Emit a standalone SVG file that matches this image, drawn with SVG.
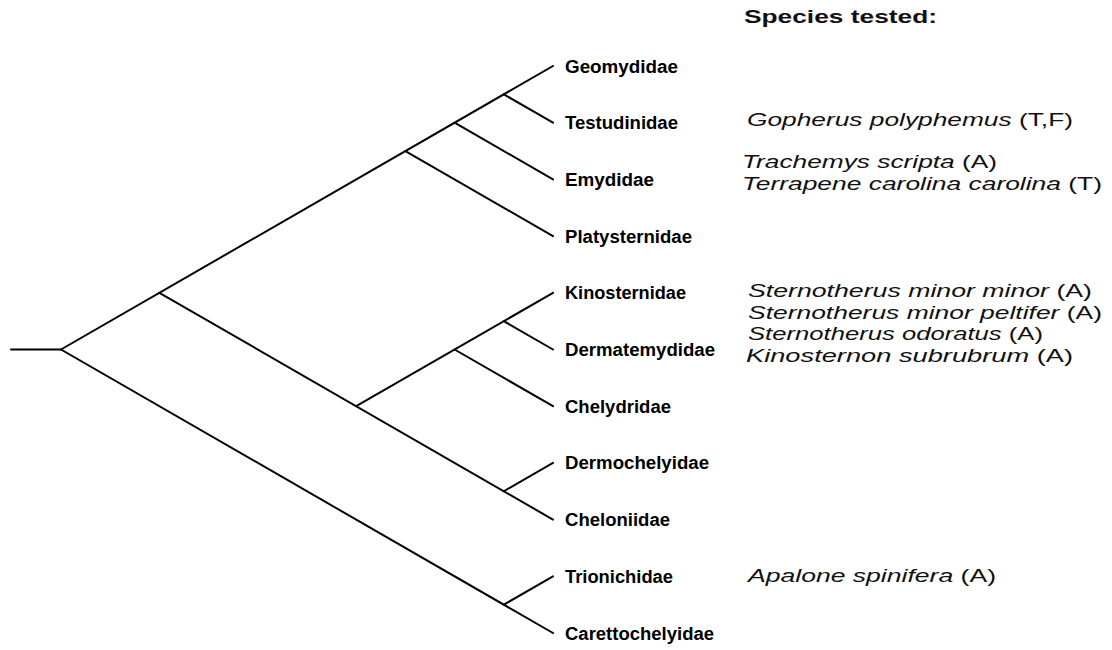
<svg xmlns="http://www.w3.org/2000/svg" width="1112" height="650" viewBox="0 0 1112 650">
<style>
.edge{stroke:#000;stroke-width:2;fill:none;stroke-linecap:round}
.fam{font-family:"Liberation Sans",Arial,sans-serif;font-weight:bold;font-size:18px;fill:#000}
.sp{font-family:"Liberation Sans",Arial,sans-serif;font-style:italic;font-size:18px;fill:#111}
.code{font-style:normal}
.head{font-family:"Liberation Sans",Arial,sans-serif;font-weight:bold;font-size:18px;fill:#111}
</style>
<rect width="1112" height="650" fill="#fff"/>
<g id="connectors">
<line class="edge" x1="11" y1="349.5" x2="61" y2="349.5"/>
<line class="edge" x1="61" y1="349.5" x2="553" y2="66"/>
<line class="edge" x1="61" y1="349.5" x2="553" y2="633"/>
<line class="edge" x1="503.8" y1="94.35" x2="553" y2="122.7"/>
<line class="edge" x1="454.6" y1="122.7" x2="553" y2="179.4"/>
<line class="edge" x1="405.4" y1="151.05" x2="553" y2="236.1"/>
<line class="edge" x1="159.4" y1="292.8" x2="553" y2="519.6"/>
<line class="edge" x1="356.2" y1="406.2" x2="553" y2="292.8"/>
<line class="edge" x1="503.8" y1="321.15" x2="553" y2="349.5"/>
<line class="edge" x1="454.6" y1="349.5" x2="553" y2="406.2"/>
<line class="edge" x1="503.8" y1="491.25" x2="553" y2="462.9"/>
<line class="edge" x1="503.8" y1="604.65" x2="553" y2="576.3"/>
</g>
<g id="heading"><text class="head" x="744" y="23" textLength="193" lengthAdjust="spacingAndGlyphs">Species tested:</text></g>
<g id="Geomydidae"><text class="fam" x="565" y="72.5" textLength="113" lengthAdjust="spacingAndGlyphs">Geomydidae</text></g>
<g id="Testudinidae"><text class="fam" x="565" y="129.2" textLength="113" lengthAdjust="spacingAndGlyphs">Testudinidae</text></g>
<g id="Emydidae"><text class="fam" x="565" y="185.9" textLength="89" lengthAdjust="spacingAndGlyphs">Emydidae</text></g>
<g id="Platysternidae"><text class="fam" x="565" y="242.6" textLength="127" lengthAdjust="spacingAndGlyphs">Platysternidae</text></g>
<g id="Kinosternidae"><text class="fam" x="565" y="299.3" textLength="121" lengthAdjust="spacingAndGlyphs">Kinosternidae</text></g>
<g id="Dermatemydidae"><text class="fam" x="565" y="356" textLength="150" lengthAdjust="spacingAndGlyphs">Dermatemydidae</text></g>
<g id="Chelydridae"><text class="fam" x="565" y="412.7" textLength="106" lengthAdjust="spacingAndGlyphs">Chelydridae</text></g>
<g id="Dermochelyidae"><text class="fam" x="565" y="469.4" textLength="144" lengthAdjust="spacingAndGlyphs">Dermochelyidae</text></g>
<g id="Cheloniidae"><text class="fam" x="565" y="526.1" textLength="105" lengthAdjust="spacingAndGlyphs">Cheloniidae</text></g>
<g id="Trionichidae"><text class="fam" x="565" y="582.8" textLength="108" lengthAdjust="spacingAndGlyphs">Trionichidae</text></g>
<g id="Carettochelyidae"><text class="fam" x="565" y="639.5" textLength="149" lengthAdjust="spacingAndGlyphs">Carettochelyidae</text></g>
<g id="species-testudinidae"><text class="sp" x="747" y="126" textLength="326" lengthAdjust="spacingAndGlyphs">Gopherus polyphemus <tspan class="code">(T,F)</tspan></text></g>
<g id="species-emydidae">
<text class="sp" x="742" y="167.5" textLength="255" lengthAdjust="spacingAndGlyphs">Trachemys scripta <tspan class="code">(A)</tspan></text>
<text class="sp" x="742" y="189.5" textLength="360" lengthAdjust="spacingAndGlyphs">Terrapene carolina carolina <tspan class="code">(T)</tspan></text>
</g>
<g id="species-kinosternidae">
<text class="sp" x="748" y="297" textLength="344" lengthAdjust="spacingAndGlyphs">Sternotherus minor minor <tspan class="code">(A)</tspan></text>
<text class="sp" x="748" y="318.5" textLength="354" lengthAdjust="spacingAndGlyphs">Sternotherus minor peltifer <tspan class="code">(A)</tspan></text>
<text class="sp" x="748" y="340" textLength="295" lengthAdjust="spacingAndGlyphs">Sternotherus odoratus <tspan class="code">(A)</tspan></text>
<text class="sp" x="746" y="361.5" textLength="327" lengthAdjust="spacingAndGlyphs">Kinosternon subrubrum <tspan class="code">(A)</tspan></text>
</g>
<g id="species-trionichidae"><text class="sp" x="748" y="582" textLength="248" lengthAdjust="spacingAndGlyphs">Apalone spinifera <tspan class="code">(A)</tspan></text></g>
</svg>
